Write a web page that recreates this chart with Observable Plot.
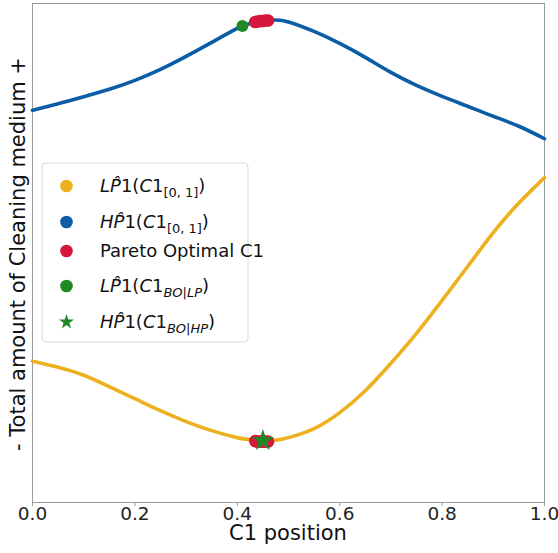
<!DOCTYPE html>
<html>
<head>
<meta charset="utf-8">
<script src="https://cdn.jsdelivr.net/npm/d3@7"></script>
<script src="https://cdn.jsdelivr.net/npm/@observablehq/plot@0.6"></script>
<style>
  html, body { margin: 0; padding: 0; background: #fff; }
  #chart svg { font-family: "DejaVu Sans", sans-serif; }
</style>
</head>
<body>
<div id="chart"></div>
<script>
// C1 position grid
const c1 = [0, 0.05, 0.1, 0.15, 0.2, 0.25, 0.3, 0.35, 0.4, 0.425, 0.45, 0.475, 0.5, 0.55, 0.6, 0.65, 0.7, 0.75, 0.8, 0.85, 0.9, 0.95, 1.0];
// HP^1 (blue) normalized amount
const hp = [0.786, 0.799, 0.813, 0.828, 0.846, 0.868, 0.894, 0.922, 0.950, 0.960, 0.965, 0.967, 0.963, 0.944, 0.920, 0.892, 0.862, 0.836, 0.814, 0.794, 0.774, 0.754, 0.729];
// LP^1 (yellow) normalized amount
const lp = [0.283, 0.271, 0.255, 0.232, 0.208, 0.184, 0.162, 0.144, 0.130, 0.126, 0.124, 0.125, 0.130, 0.148, 0.180, 0.224, 0.279, 0.339, 0.405, 0.473, 0.541, 0.600, 0.651];
// Pareto optimal C1 points
const paretoX = [0.435, 0.44, 0.445, 0.45, 0.455, 0.46];
const paretoHP = [0.963, 0.964, 0.965, 0.965, 0.966, 0.966];
const paretoLP = [0.123, 0.122, 0.122, 0.122, 0.122, 0.122];
// Bayesian-optimal points
const boLP = {x: 0.41, y: 0.955};
const boHP = {x: 0.45, y: 0.124};
const xTicks = [0, 0.2, 0.4, 0.6, 0.8, 1.0];
const xLabel = "C1 position";
const yLabel = "- Total amount of Cleaning medium +";

const colors = {lp: "#EDB120", hp: "#0B5DA5", pareto: "#D7163C", bo: "#1F8A24"};

const hpData = c1.map((x, i) => ({x, y: hp[i]}));
const lpData = c1.map((x, i) => ({x, y: lp[i]}));
const parHP = paretoX.map((x, i) => ({x, y: paretoHP[i]}));
const parLP = paretoX.map((x, i) => ({x, y: paretoLP[i]}));

const chart = Plot.plot({
  width: 558,
  height: 553,
  marginLeft: 32,
  marginRight: 14,
  marginTop: 3,
  marginBottom: 51,
  style: {fontFamily: "DejaVu Sans, sans-serif", background: "#fff", color: "#000", overflow: "visible"},
  x: {domain: [0, 1], ticks: xTicks, tickFormat: d3.format(".1f")},
  y: {domain: [0, 1], axis: null},
  marks: [
    Plot.frame({stroke: "#9a9a9a", strokeWidth: 1}),
    Plot.axisX({ticks: xTicks, tickFormat: d3.format(".1f"), tickSize: 4, tickPadding: 0, fontSize: 18.5, label: null, stroke: "#9a9a9a", fill: "#222"}),
    Plot.line(hpData, {x: "x", y: "y", stroke: colors.hp, strokeWidth: 3.6, curve: "natural"}),
    Plot.line(lpData, {x: "x", y: "y", stroke: colors.lp, strokeWidth: 3.6, curve: "natural"}),
    Plot.dot(parHP, {x: "x", y: "y", r: 6.3, fill: colors.pareto}),
    Plot.dot(parLP, {x: "x", y: "y", r: 6.3, fill: colors.pareto}),
    Plot.dot([boLP], {x: "x", y: "y", r: 6, fill: colors.bo}),
    Plot.dot([boHP], {x: "x", y: "y", r: 7, symbol: "star", fill: colors.bo})
  ]
});

document.getElementById("chart").appendChild(chart);

const svg = d3.select(chart);
// Axis labels
svg.append("text").attr("x", 288).attr("y", 540).attr("text-anchor", "middle")
  .attr("font-size", 21).attr("fill", "#111").text(xLabel);
svg.append("text").attr("transform", "translate(25,254) rotate(-90)").attr("text-anchor", "middle")
  .attr("font-size", 21).attr("fill", "#111").text(yLabel);

// Legend
const lg = svg.append("g").attr("font-family", "DejaVu Sans, sans-serif").attr("font-size", 18).attr("text-anchor", "start");
lg.append("rect").attr("x", 42).attr("y", 163).attr("width", 206).attr("height", 179)
  .attr("rx", 4).attr("fill", "#fff").attr("fill-opacity", 0.85).attr("stroke", "#d8d8d8");

const rows = [
  {y: 186, kind: "dot", color: colors.lp, parts: [["LP̂", "i"], ["1(", ""], ["C", "i"], ["1", ""], ["[0, 1]", "sub"], [")", ""]]},
  {y: 222, kind: "dot", color: colors.hp, parts: [["HP̂", "i"], ["1(", ""], ["C", "i"], ["1", ""], ["[0, 1]", "sub"], [")", ""]]},
  {y: 251, kind: "dot", color: colors.pareto, parts: [["Pareto Optimal C1", ""]]},
  {y: 286, kind: "dot", color: colors.bo, parts: [["LP̂", "i"], ["1(", ""], ["C", "i"], ["1", ""], ["BO|LP", "subi"], [")", ""]]},
  {y: 322, kind: "star", color: colors.bo, parts: [["HP̂", "i"], ["1(", ""], ["C", "i"], ["1", ""], ["BO|HP", "subi"], [")", ""]]}
];

rows.forEach(r => {
  if (r.kind === "dot") {
    lg.append("circle").attr("cx", 66.5).attr("cy", r.y).attr("r", 6.3).attr("fill", r.color);
  } else {
    lg.append("path").attr("d", d3.symbol(d3.symbolStar, 70)()).attr("transform", `translate(66.5,${r.y})`).attr("fill", r.color);
  }
  const t = lg.append("text").attr("x", 100).attr("y", r.y).attr("dy", "0.35em").attr("fill", "#111").attr("text-anchor", "start");
  let wasSub = false;
  r.parts.forEach(([s, st]) => {
    const ts = t.append("tspan").text(s);
    if (st === "i") ts.attr("font-style", "italic");
    if (st === "sub" || st === "subi") {
      ts.attr("font-size", 13).attr("dy", 5);
      if (st === "subi") ts.attr("font-style", "italic");
      wasSub = true;
    } else if (wasSub) {
      ts.attr("dy", -5);
      wasSub = false;
    }
  });
});
</script>
</body>
</html>
